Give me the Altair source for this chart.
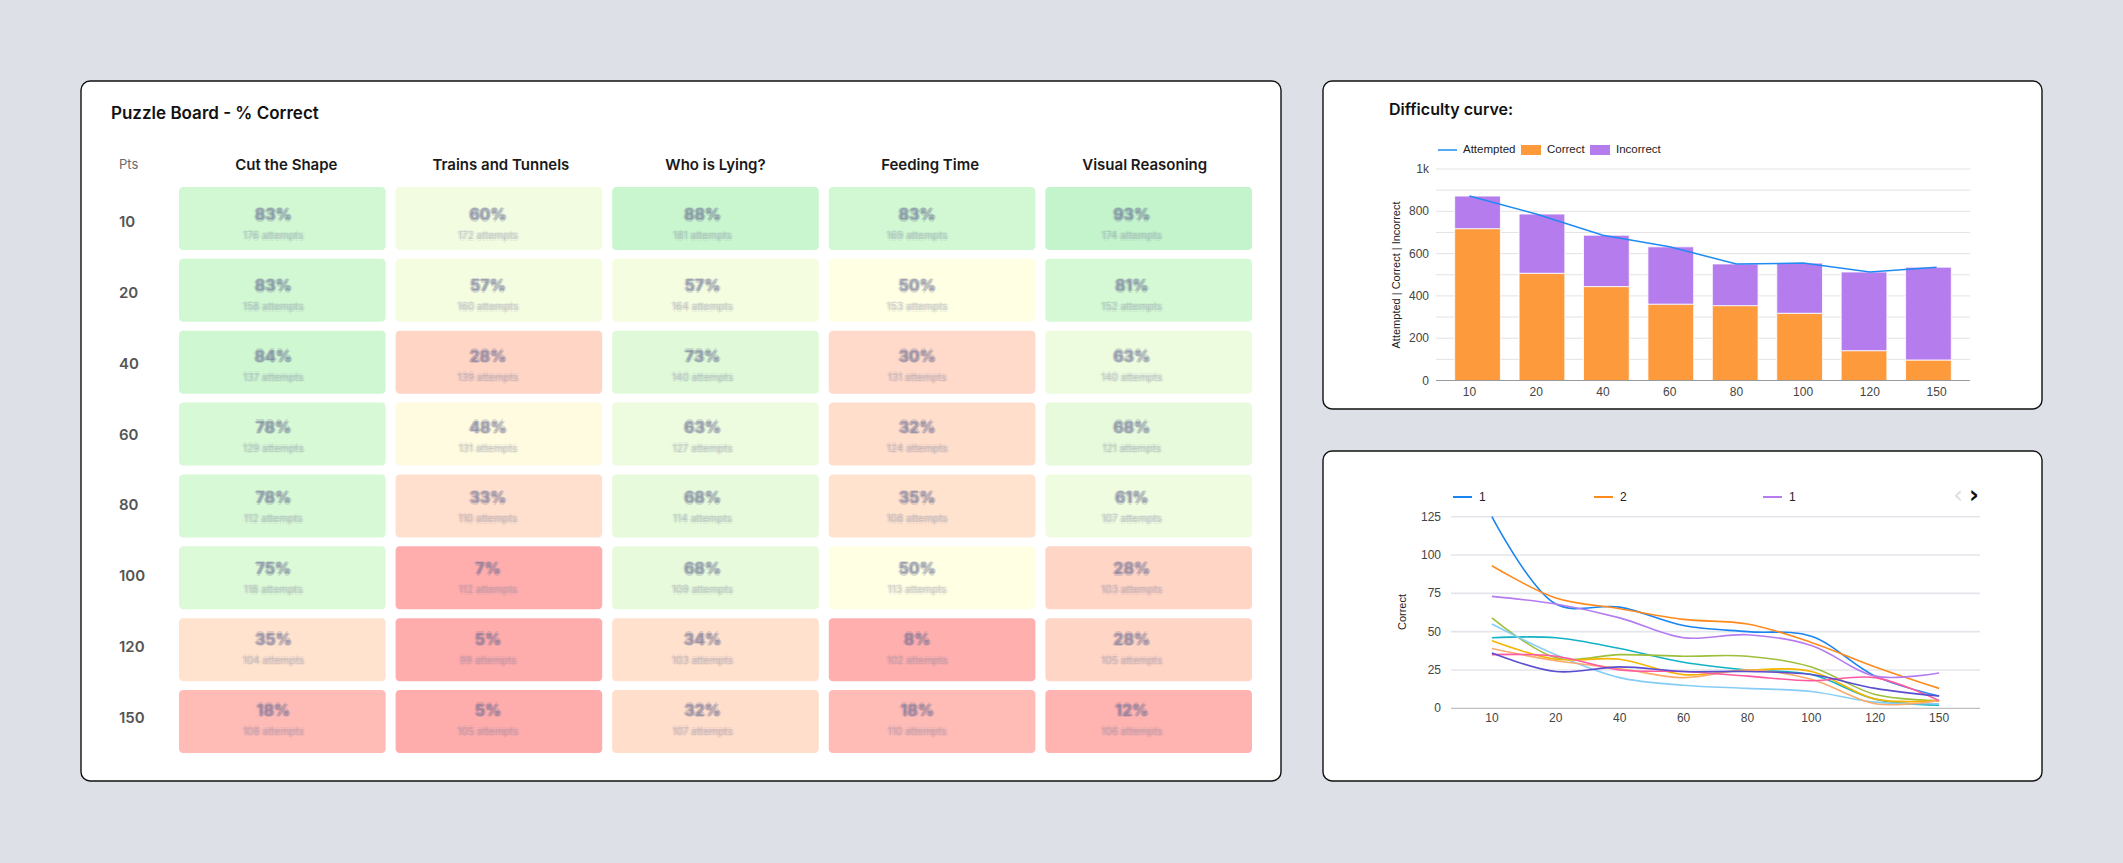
import altair as alt
import pandas as pd

# ---------------- data ----------------
puzzles = ["Cut the Shape", "Trains and Tunnels", "Who is Lying?", "Feeding Time", "Visual Reasoning"]
pts = ["10", "20", "40", "60", "80", "100", "120", "150"]

# % correct per puzzle, one value per points level
pct_cut = [83, 83, 84, 78, 78, 75, 35, 18]
pct_trains = [60, 57, 28, 48, 33, 7, 5, 5]
pct_lying = [88, 57, 73, 63, 68, 68, 34, 32]
pct_feeding = [83, 50, 30, 32, 35, 50, 8, 18]
pct_visual = [93, 81, 63, 68, 61, 28, 28, 12]

# attempts per puzzle, one value per points level
att_cut = [176, 158, 137, 129, 112, 118, 104, 108]
att_trains = [172, 160, 139, 131, 110, 112, 99, 105]
att_lying = [181, 164, 140, 127, 114, 109, 103, 107]
att_feeding = [169, 153, 131, 124, 108, 113, 102, 110]
att_visual = [174, 152, 140, 121, 107, 103, 105, 106]

# difficulty curve
correct = [718, 507, 444, 361, 354, 318, 141, 97]
incorrect = [154, 280, 243, 271, 197, 237, 372, 439]
attempted = [872, 787, 687, 632, 551, 555, 513, 536]
bar_ticks = [0, 200, 400, 600, 800, 1000]
bar_tick_labels = ["0", "200", "400", "600", "800", "1k"]

# correct answers per puzzle series
series_ids = ["p1", "p2", "p3", "p4", "p5", "p6", "p7", "p8", "p9", "p10"]
series_colors = ["#1a84f0", "#ff8a1c", "#b47cf0", "#12b2c6", "#9dbf3a",
                 "#86cdf6", "#f5b400", "#f9aa6c", "#ff5aa0", "#5a4ed0"]
s_p1 = [125, 68, 66, 54, 50, 47, 21, 8]
s_p2 = [93, 72, 65, 58, 55, 43, 27, 13]
s_p3 = [73, 68, 59, 46, 48, 41, 21, 23]
s_p4 = [46, 46, 39, 30, 25, 22, 6, 2]
s_p5 = [59, 33, 35, 34, 34, 27, 9, 5]
s_p6 = [55, 35, 20, 15, 13, 11, 4, 3]
s_p7 = [44, 32, 32, 22, 25, 24, 6, 5]
s_p8 = [39, 31, 26, 20, 25, 19, 3, 5]
s_p9 = [35, 34, 25, 24, 21, 18, 20, 5]
s_p10 = [36, 24, 27, 24, 24, 22, 13, 8]
legend_labels = ["1", "2", "1"]
line_ticks = [0, 25, 50, 75, 100, 125]

# ---------------- tables ----------------
pct_by_puzzle = [pct_cut, pct_trains, pct_lying, pct_feeding, pct_visual]
att_by_puzzle = [att_cut, att_trains, att_lying, att_feeding, att_visual]
heat = pd.DataFrame(
    [{"puzzle": p, "pts": t, "pct": pct_by_puzzle[j][i], "attempts": att_by_puzzle[j][i]}
     for j, p in enumerate(puzzles) for i, t in enumerate(pts)]
)
heat["pct_text"] = heat["pct"].astype(str) + "%"
heat["n_text"] = heat["attempts"].astype(str) + " attempts"

stack = pd.DataFrame({
    "pts": pts + pts,
    "kind": ["Correct"] * len(pts) + ["Incorrect"] * len(pts),
    "count": correct + incorrect,
    "order": [0] * len(pts) + [1] * len(pts),
})
att_df = pd.DataFrame({"pts": pts, "attempted": attempted, "idx": range(len(pts))})

series_values = [s_p1, s_p2, s_p3, s_p4, s_p5, s_p6, s_p7, s_p8, s_p9, s_p10]
lines_df = pd.DataFrame(
    [{"series": sid, "pts": t, "value": vals[i], "idx": i}
     for sid, vals in zip(series_ids, series_values) for i, t in enumerate(pts)]
)

# ---------------- styling ----------------
W, H = 2123, 863
BG = "#dde0e7"
ORANGE = "#fd9a3c"
PURPLE = "#b57cee"
BLUE = "#1f8bf2"
UI_FONT = "Inter"
CHART_FONT = "Liberation Sans"
one = pd.DataFrame({"k": [0]})


def panel(x0, y0, x1, y1):
    return alt.Chart(one).mark_rect(
        fill="white", stroke="#111111", strokeWidth=1.4, cornerRadius=9
    ).encode(x=alt.value(x0), x2=alt.value(x1), y=alt.value(y0), y2=alt.value(y1))


def label(text, x, y, **kw):
    return alt.Chart(one).mark_text(text=text, **kw).encode(x=alt.value(x), y=alt.value(y))


layers = []

# ---------- panel 1: puzzle board ----------
layers.append(panel(81, 81, 1281, 781))
layers.append(label("Puzzle Board - % Correct", 111, 114, align="left", baseline="middle",
                    font=UI_FONT, fontSize=17, fontWeight=600, color="#111111"))
layers.append(label("Pts", 119, 165, align="left", baseline="middle",
                    font=UI_FONT, fontSize=13, color="#6b6b6b"))

hx = alt.Scale(domain=puzzles, range=[179, 1252], paddingInner=0.046, paddingOuter=0)
hy = alt.Scale(domain=pts, range=[187, 753], paddingInner=0.125, paddingOuter=0)
heat_color = alt.Scale(
    domain=[5, 18, 30, 42, 50, 60, 70, 80, 92],
    range=["#ffacac", "#ffbbb6", "#ffdaca", "#ffefda", "#ffffe3",
           "#f1fce1", "#e4fbdb", "#d5f9d5", "#c3f4cc"],
    clamp=True,
)

layers.append(
    alt.Chart(pd.DataFrame({"puzzle": puzzles})).mark_text(
        font=UI_FONT, fontSize=15, fontWeight=600, color="#1a1a1a", baseline="middle"
    ).encode(x=alt.X("puzzle:N", scale=hx, axis=None, bandPosition=0.5),
             y=alt.value(165), text="puzzle:N")
)
layers.append(
    alt.Chart(pd.DataFrame({"pts": pts})).mark_text(
        font=UI_FONT, fontSize=15, fontWeight=600, color="#555555", align="left", baseline="middle"
    ).encode(x=alt.value(119), y=alt.Y("pts:N", scale=hy, axis=None, bandPosition=0.5), text="pts:N")
)
layers.append(
    alt.Chart(heat).mark_rect(cornerRadius=4).encode(
        x=alt.X("puzzle:N", scale=hx, axis=None),
        y=alt.Y("pts:N", scale=hy, axis=None),
        color=alt.Color("pct:Q", scale=heat_color, legend=None),
    )
)

# cell values drawn as a soft smudge: a wide faint halo plus a few
# slightly shifted, translucent copies of the same text
cell_x = alt.X("puzzle:N", scale=hx, axis=None, bandPosition=0.5)
cell_y = alt.Y("pts:N", scale=hy, axis=None, bandPosition=0.5)
layers.append(
    alt.Chart(heat).mark_text(
        font=UI_FONT, fontSize=16, fontWeight=700, opacity=0.0,
        stroke="#6d7196", strokeWidth=9, strokeOpacity=0.12, strokeJoin="round",
        dx=-13, dy=-7, baseline="middle",
    ).encode(x=cell_x, y=cell_y, text="pct_text:N")
)
layers.append(
    alt.Chart(heat).mark_text(
        font=UI_FONT, fontSize=10, fontWeight=500, opacity=0.0,
        stroke="#7c80a0", strokeWidth=8, strokeOpacity=0.09, strokeJoin="round",
        dx=-13, dy=14, baseline="middle",
    ).encode(x=cell_x, y=cell_y, text="n_text:N")
)
for ddx, ddy in [(-1.5, 0), (1.5, 0), (0, -1.5), (0, 1.5), (0, 0)]:
    layers.append(
        alt.Chart(heat).mark_text(
            font=UI_FONT, fontSize=16, fontWeight=700, color="#686c93", opacity=0.22,
            dx=-13 + ddx, dy=-7 + ddy, baseline="middle",
        ).encode(x=cell_x, y=cell_y, text="pct_text:N")
    )
    layers.append(
        alt.Chart(heat).mark_text(
            font=UI_FONT, fontSize=10, fontWeight=500, color="#7c80a0", opacity=0.12,
            dx=-13 + ddx, dy=14 + ddy, baseline="middle",
        ).encode(x=cell_x, y=cell_y, text="n_text:N")
    )

# ---------- panel 2: difficulty curve ----------
layers.append(panel(1323, 81, 2042, 409))
layers.append(label("Difficulty curve:", 1389, 110, align="left", baseline="middle",
                    font=UI_FONT, fontSize=16, fontWeight=600, color="#111111"))

bx = alt.Scale(domain=pts, range=[1436, 1970], paddingInner=0.29, paddingOuter=0.29)
by = alt.Scale(domain=[0, 1000], range=[380.5, 169], nice=False)

layers.append(
    alt.Chart(pd.DataFrame({"v": list(range(100, 1001, 100))})).mark_rule(
        color="#e3e3e3", strokeWidth=1
    ).encode(y=alt.Y("v:Q", scale=by, axis=None), x=alt.value(1436), x2=alt.value(1970))
)
layers.append(
    alt.Chart(pd.DataFrame({"v": bar_ticks, "t": bar_tick_labels})).mark_text(
        font=CHART_FONT, fontSize=12, color="#444444", align="right", baseline="middle"
    ).encode(y=alt.Y("v:Q", scale=by, axis=None), x=alt.value(1429), text="t:N")
)
layers.append(
    alt.Chart(stack).mark_bar(stroke="white", strokeWidth=1, strokeOpacity=0.8).encode(
        x=alt.X("pts:N", scale=bx, axis=None),
        y=alt.Y("count:Q", stack="zero", scale=by, axis=None),
        color=alt.Color("kind:N", scale=alt.Scale(domain=["Correct", "Incorrect"],
                                                  range=[ORANGE, PURPLE]), legend=None),
        order=alt.Order("order:Q"),
    )
)
layers.append(
    alt.Chart(pd.DataFrame({"v": [0]})).mark_rule(color="#9a9a9a", strokeWidth=1).encode(
        y=alt.Y("v:Q", scale=by, axis=None), x=alt.value(1436), x2=alt.value(1970))
)
layers.append(
    alt.Chart(att_df).mark_line(color=BLUE, strokeWidth=1.5).encode(
        x=alt.X("pts:N", scale=bx, axis=None, bandPosition=0.5),
        y=alt.Y("attempted:Q", scale=by, axis=None),
        order=alt.Order("idx:Q"),
    )
)
layers.append(
    alt.Chart(pd.DataFrame({"pts": pts})).mark_text(
        font=CHART_FONT, fontSize=12, color="#444444", baseline="middle"
    ).encode(x=alt.X("pts:N", scale=bx, axis=None, bandPosition=0.5), y=alt.value(392), text="pts:N")
)
layers.append(label("Attempted | Correct | Incorrect", 1397, 275, angle=270, baseline="middle",
                    font=CHART_FONT, fontSize=11, color="#222222"))
# legend
layers.append(alt.Chart(one).mark_rule(color=BLUE, strokeWidth=1.5).encode(
    x=alt.value(1438), x2=alt.value(1457), y=alt.value(150)))
layers.append(label("Attempted", 1463, 150, align="left", baseline="middle",
                    font=CHART_FONT, fontSize=11.5, color="#222222"))
layers.append(alt.Chart(one).mark_rect(color=ORANGE).encode(
    x=alt.value(1521), x2=alt.value(1541), y=alt.value(145), y2=alt.value(155)))
layers.append(label("Correct", 1547, 150, align="left", baseline="middle",
                    font=CHART_FONT, fontSize=11.5, color="#222222"))
layers.append(alt.Chart(one).mark_rect(color=PURPLE).encode(
    x=alt.value(1590), x2=alt.value(1610), y=alt.value(145), y2=alt.value(155)))
layers.append(label("Incorrect", 1616, 150, align="left", baseline="middle",
                    font=CHART_FONT, fontSize=11.5, color="#222222"))

# ---------- panel 3: correct per puzzle ----------
layers.append(panel(1323, 451, 2042, 781))

lx = alt.Scale(type="point", domain=pts, range=[1451, 1980], padding=0.64)
ly = alt.Scale(domain=[0, 125], range=[708.3, 516.7], nice=False)

layers.append(
    alt.Chart(pd.DataFrame({"v": line_ticks[1:]})).mark_rule(
        color="#e4e5eb", strokeWidth=1.6
    ).encode(y=alt.Y("v:Q", scale=ly, axis=None), x=alt.value(1451), x2=alt.value(1980))
)
layers.append(
    alt.Chart(pd.DataFrame({"v": [0]})).mark_rule(color="#b0b0b0", strokeWidth=1).encode(
        y=alt.Y("v:Q", scale=ly, axis=None), x=alt.value(1451), x2=alt.value(1980))
)
layers.append(
    alt.Chart(pd.DataFrame({"v": line_ticks})).mark_text(
        font=CHART_FONT, fontSize=12, color="#444444", align="right", baseline="middle"
    ).encode(y=alt.Y("v:Q", scale=ly, axis=None), x=alt.value(1441), text="v:Q")
)
layers.append(
    alt.Chart(lines_df).mark_line(strokeWidth=1.6, interpolate="catmull-rom").encode(
        x=alt.X("pts:N", scale=lx, axis=None),
        y=alt.Y("value:Q", scale=ly, axis=None),
        color=alt.Color("series:N", scale=alt.Scale(domain=series_ids, range=series_colors), legend=None),
        detail="series:N",
        order=alt.Order("idx:Q"),
    )
)
layers.append(
    alt.Chart(pd.DataFrame({"pts": pts})).mark_text(
        font=CHART_FONT, fontSize=12, color="#444444", baseline="middle"
    ).encode(x=alt.X("pts:N", scale=lx, axis=None), y=alt.value(718), text="pts:N")
)
layers.append(label("Correct", 1403, 612, angle=270, baseline="middle",
                    font=CHART_FONT, fontSize=11, color="#222222"))
# legend (first page)
for (x0, txt, col) in [(1453, legend_labels[0], series_colors[0]),
                       (1594, legend_labels[1], series_colors[1]),
                       (1763, legend_labels[2], series_colors[2])]:
    layers.append(alt.Chart(one).mark_rule(color=col, strokeWidth=2).encode(
        x=alt.value(x0), x2=alt.value(x0 + 19), y=alt.value(497)))
    layers.append(label(txt, x0 + 26, 497, align="left", baseline="middle",
                        font=CHART_FONT, fontSize=12, color="#222222"))
layers.append(label("‹", 1958, 496, baseline="middle", font="DejaVu Sans", fontSize=24, color="#dddddd"))
layers.append(label("›", 1974, 496, baseline="middle", font="DejaVu Sans", fontSize=24,
                    fontWeight="bold", color="#111111"))

chart = alt.layer(*layers).resolve_scale(
    x="independent", y="independent", color="independent"
).properties(
    width=W, height=H, padding=0, autosize="none", background=BG
).configure_view(stroke=None)

chart.save("out.html", embed_options={"renderer": "svg", "actions": False})
